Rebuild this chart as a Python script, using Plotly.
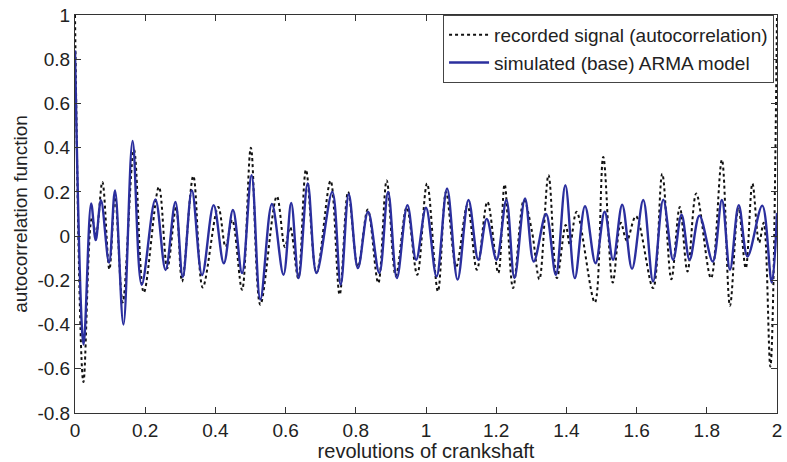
import plotly.graph_objects as go

# simulated (base) ARMA model - extrema
sim_x = [0.000, 0.0245, 0.046, 0.059, 0.074, 0.097, 0.114, 0.138, 0.164, 0.190,
         0.229, 0.258, 0.286, 0.307, 0.333, 0.362, 0.395, 0.424, 0.450, 0.476,
         0.503, 0.528, 0.561, 0.594, 0.616, 0.637, 0.663, 0.688, 0.733, 0.757,
         0.780, 0.806, 0.835, 0.867, 0.892, 0.917, 0.947, 0.972, 1.000, 1.030,
         1.060, 1.090, 1.121, 1.149, 1.173, 1.201, 1.229, 1.252, 1.282, 1.307,
         1.342, 1.370, 1.397, 1.424, 1.453, 1.483, 1.509, 1.533, 1.559, 1.587,
         1.619, 1.647, 1.676, 1.704, 1.728, 1.751, 1.779, 1.817, 1.843, 1.866,
         1.891, 1.916, 1.958, 1.985, 2.000]
sim_y = [0.84, -0.49, 0.148, -0.018, 0.162, -0.12, 0.207, -0.40, 0.43, -0.22,
         0.166, -0.153, 0.154, -0.185, 0.207, -0.176, 0.14, -0.123, 0.118, -0.167,
         0.276, -0.287, 0.145, -0.175, 0.15, -0.19, 0.238, -0.167, 0.20, -0.22,
         0.19, -0.145, 0.11, -0.167, 0.20, -0.19, 0.14, -0.107, 0.128, -0.183,
         0.215, -0.197, 0.163, -0.107, 0.078, -0.107, 0.163, -0.19, 0.17, -0.115,
         0.10, -0.175, 0.23, -0.19, 0.135, -0.123, 0.11, -0.107, 0.142, -0.148,
         0.163, -0.205, 0.165, -0.107, 0.097, -0.107, 0.092, -0.115, 0.163, -0.152,
         0.14, -0.092, 0.138, -0.21, 0.105]

# recorded signal (autocorrelation) - extrema
rec_x = [0.000, 0.024, 0.048, 0.060, 0.078, 0.098, 0.114, 0.136, 0.168, 0.196,
         0.239, 0.263, 0.288, 0.305, 0.337, 0.364, 0.408, 0.429, 0.448, 0.476,
         0.501, 0.528, 0.575, 0.598, 0.613, 0.636, 0.658, 0.688, 0.728, 0.754,
         0.778, 0.806, 0.834, 0.864, 0.888, 0.914, 0.945, 0.975, 1.003, 1.034,
         1.057, 1.086, 1.118, 1.145, 1.175, 1.206, 1.224, 1.248, 1.279, 1.302,
         1.323, 1.349, 1.373, 1.398, 1.410, 1.429, 1.481, 1.505, 1.532, 1.555,
         1.572, 1.598, 1.647, 1.673, 1.699, 1.723, 1.745, 1.770, 1.812, 1.843,
         1.866, 1.890, 1.911, 1.930, 1.949, 1.962, 1.981, 2.000]
rec_y = [1.00, -0.66, 0.08, 0.01, 0.245, -0.15, 0.177, -0.30, 0.39, -0.255,
         0.222, -0.145, 0.13, -0.205, 0.272, -0.232, 0.132, -0.048, 0.073, -0.243,
         0.40, -0.31, 0.18, -0.05, 0.04, -0.19, 0.30, -0.167, 0.25, -0.265,
         0.20, -0.14, 0.12, -0.212, 0.252, -0.18, 0.13, -0.175, 0.238, -0.25,
         0.20, -0.138, 0.14, -0.152, 0.155, -0.167, 0.234, -0.235, 0.163, 0.02,
         -0.195, 0.276, -0.19, 0.05, -0.04, 0.11, -0.30, 0.358, -0.21, 0.06,
         -0.02, 0.09, -0.235, 0.282, -0.195, 0.132, -0.16, 0.193, -0.19, 0.345,
         -0.315, 0.13, -0.145, 0.238, -0.03, 0.06, -0.59, 1.00]

x_ticks = [0, 0.2, 0.4, 0.6, 0.8, 1.0, 1.2, 1.4, 1.6, 1.8, 2.0]
x_labels = ["0", "0.2", "0.4", "0.6", "0.8", "1", "1.2", "1.4", "1.6", "1.8", "2"]
y_ticks = [-0.8, -0.6, -0.4, -0.2, 0, 0.2, 0.4, 0.6, 0.8, 1.0]
y_labels = ["-0.8", "-0.6", "-0.4", "-0.2", "0", "0.2", "0.4", "0.6", "0.8", "1"]

FONT = "Liberation Sans, Arial, sans-serif"

fig = go.Figure()
fig.add_trace(go.Scatter(
    x=rec_x, y=rec_y, mode="lines", name="recorded signal (autocorrelation)",
    line=dict(color="#111111", width=2, dash="dot", shape="spline", smoothing=1.0),
))
fig.add_trace(go.Scatter(
    x=sim_x, y=sim_y, mode="lines", name="simulated (base) ARMA model",
    line=dict(color="#2B2F9E", width=2.4, shape="spline", smoothing=1.0),
))

axis_common = dict(
    showgrid=False, zeroline=False, showline=True, linecolor="#333333", linewidth=1,
    mirror="ticks", ticks="inside", ticklen=6, tickcolor="#333333",
    tickfont=dict(family=FONT, size=19, color="#222222"),
    ticklabeloverflow="allow",
)

fig.update_layout(
    width=787, height=462,
    margin=dict(l=75, r=5, t=14, b=48),
    paper_bgcolor="white", plot_bgcolor="white",
    font=dict(family=FONT, color="#222222"),
    xaxis=dict(range=[0, 2], tickvals=x_ticks, ticktext=x_labels,
               title=dict(text="revolutions of crankshaft", font=dict(family=FONT, size=20), standoff=2),
               **axis_common),
    yaxis=dict(range=[-0.8, 1], tickvals=y_ticks, ticktext=y_labels,
               title=dict(text="autocorrelation function", font=dict(family=FONT, size=19), standoff=4),
               **axis_common),
    legend=dict(x=0.9958, y=1.0, xanchor="right", yanchor="top",
                bgcolor="white", bordercolor="#444444", borderwidth=1,
                font=dict(family=FONT, size=19, color="#222222"),
                tracegroupgap=0, itemwidth=40),
    showlegend=True,
)

fig.write_html("out.html")
